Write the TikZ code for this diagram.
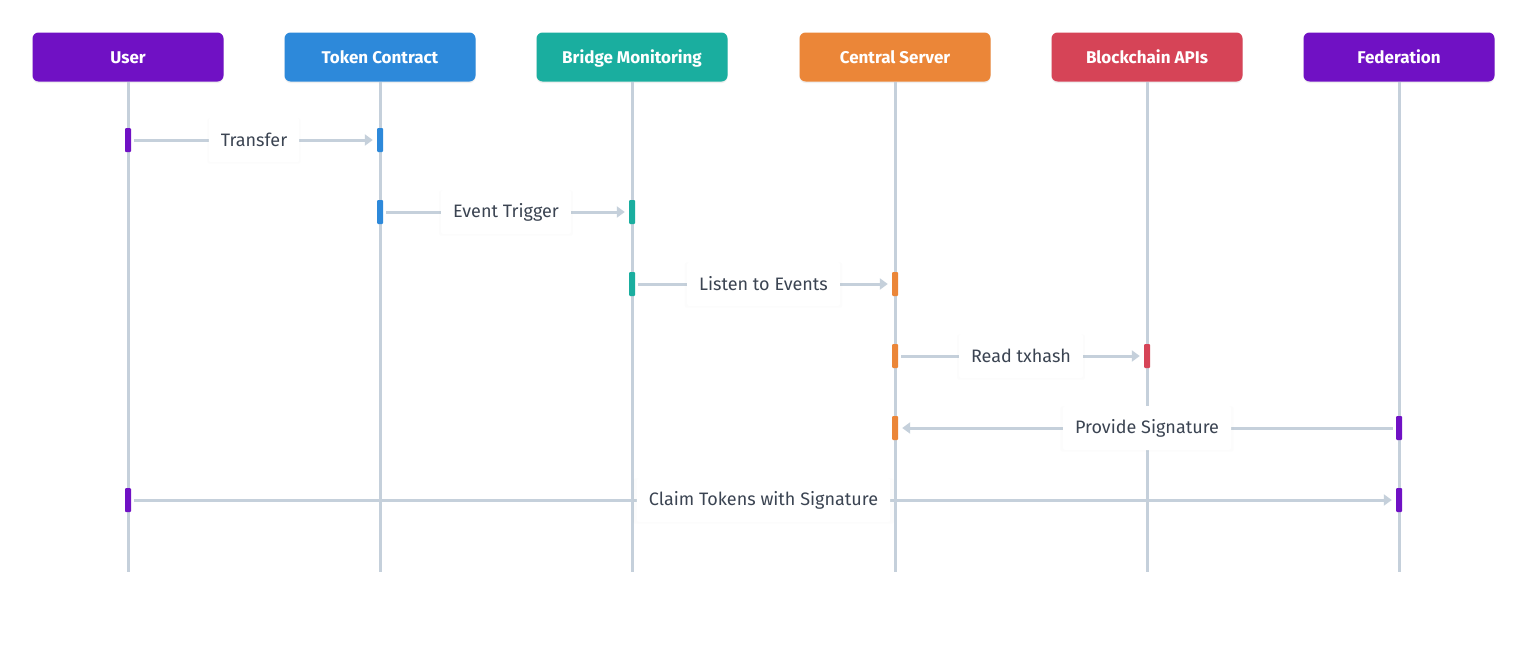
\documentclass[tikz,border=0pt]{standalone}
\usepackage{fontspec}
\setmainfont{Fira Sans}
\usetikzlibrary{arrows.meta,shadows}
\definecolor{cUser}{HTML}{7011C4}
\definecolor{cToken}{HTML}{2D89DA}
\definecolor{cBridge}{HTML}{1AAE9F}
\definecolor{cCentral}{HTML}{EB8638}
\definecolor{cChain}{HTML}{D64457}
\definecolor{cLine}{HTML}{C5D0DB}
\definecolor{cText}{HTML}{3B4452}
\tikzset{
  head/.style={rectangle, rounded corners=6pt, minimum width=191pt, minimum height=49pt,
    text=white, font=\fontsize{17}{20}\selectfont\bfseries, inner sep=0pt,
    text height=12pt, text depth=0pt,
    drop shadow={opacity=0.12, shadow xshift=0pt, shadow yshift=-1.5pt}},
  life/.style={cLine, line width=3pt},
  act/.style={rectangle, rounded corners=1pt, minimum width=6pt, minimum height=24pt, inner sep=0pt},
  msg/.style={cLine, line width=3pt, -{Triangle[length=8pt,width=11pt]}, shorten >=4pt, shorten <=3pt},
  lbl/.style={fill=white, text=cText, font=\fontsize{18}{21}\selectfont, minimum height=44pt,
    inner xsep=12pt, rounded corners=2pt,
    drop shadow={opacity=0.025, shadow xshift=0pt, shadow yshift=-1pt, shadow scale=1.03}}
}
\begin{document}
\begin{tikzpicture}[x=1pt,y=-1pt]
\useasboundingbox[fill=white] (0,0) rectangle (1528,648);
% headers
\node[head, fill=cUser] (u) at (128,57) {User};
\node[head, fill=cToken] (t) at (380,57) {Token Contract};
\node[head, fill=cBridge] (b) at (632,57) {Bridge Monitoring};
\node[head, fill=cCentral] (c) at (895,57) {Central Server};
\node[head, fill=cChain] (a) at (1147,57) {Blockchain APIs};
\node[head, fill=cUser] (f) at (1399,57) {Federation};
% lifeline ends
\coordinate (ue) at (128,572);
\coordinate (te) at (380,572);
\coordinate (be) at (632,572);
\coordinate (ce) at (895,572);
\coordinate (ae) at (1147,572);
\coordinate (fe) at (1399,572);
\draw[life] (u.south) -- (ue);
\draw[life] (t.south) -- (te);
\draw[life] (b.south) -- (be);
\draw[life] (c.south) -- (ce);
\draw[life] (a.south) -- (ae);
\draw[life] (f.south) -- (fe);
% activation bars
\node[act, fill=cUser] (u1) at (128,140) {};
\node[act, fill=cToken] (t1) at (380,140) {};
\node[act, fill=cToken] (t2) at (380,212) {};
\node[act, fill=cBridge] (b2) at (632,212) {};
\node[act, fill=cBridge] (b3) at (632,284) {};
\node[act, fill=cCentral] (c3) at (895,284) {};
\node[act, fill=cCentral] (c4) at (895,356) {};
\node[act, fill=cChain] (a4) at (1147,356) {};
\node[act, fill=cCentral] (c5) at (895,428) {};
\node[act, fill=cUser] (f5) at (1399,428) {};
\node[act, fill=cUser] (u6) at (128,500) {};
\node[act, fill=cUser] (f6) at (1399,500) {};
% messages
\draw[msg] (u1.east) -- node[lbl] {Transfer} (t1.west);
\draw[msg] (t2.east) -- node[lbl] {Event Trigger} (b2.west);
\draw[msg] (b3.east) -- node[lbl] {Listen to Events} (c3.west);
\draw[msg] (c4.east) -- node[lbl] {Read txhash} (a4.west);
\draw[msg] (f5.west) -- node[lbl] {Provide Signature} (c5.east);
\draw[msg] (u6.east) -- node[lbl] {Claim Tokens with Signature} (f6.west);
\end{tikzpicture}
\end{document}
